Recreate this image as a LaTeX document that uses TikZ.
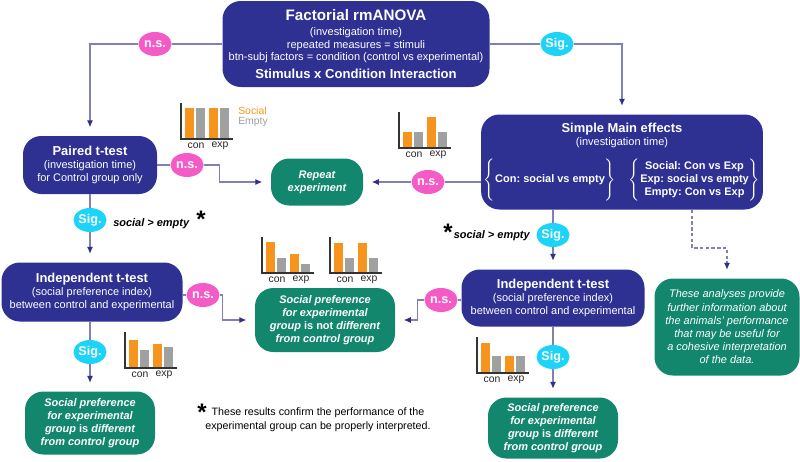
\documentclass[tikz,border=0pt]{standalone}
\usepackage{fontspec}
\setmainfont{Liberation Sans}
\usetikzlibrary{shapes.geometric,arrows.meta}

\definecolor{boxblue}{RGB}{46,49,146}
\definecolor{boxgreen}{RGB}{18,135,110}
\definecolor{nspink}{RGB}{245,91,198}
\definecolor{sigcyan}{RGB}{29,211,247}
\definecolor{linecol}{RGB}{128,128,178}
\definecolor{tipcol}{RGB}{48,48,140}
\definecolor{barorange}{RGB}{247,148,29}
\definecolor{bargray}{RGB}{160,160,160}

\newcommand{\boxtitle}{\fontsize{9.2}{11}\selectfont\bfseries}

% small bar chart: x, baseline y, four bar heights
\newcommand{\minichart}[6]{
  \fill[barorange] (#1+4,#2) rectangle ++(9,-#3);
  \fill[bargray]   (#1+15,#2) rectangle ++(9,-#4);
  \fill[barorange] (#1+28,#2) rectangle ++(9,-#5);
  \fill[bargray]   (#1+39,#2) rectangle ++(9,-#6);
  \draw[black!80,line width=0.8pt] (#1,#2-36) -- (#1,#2) -- (#1+52,#2);
}

\tikzset{
  bluebox/.style={rectangle, rounded corners=13pt, fill=boxblue, text=white,
    align=center, inner sep=2pt, font=\fontsize{7.8}{9.2}\selectfont\frenchspacing},
  greenbox/.style={rectangle, rounded corners=13pt, fill=boxgreen, text=white,
    align=center, inner sep=2pt, font=\fontsize{7.8}{9.4}\selectfont\bfseries\itshape},
  nsdot/.style={ellipse, fill=nspink, text=white, inner sep=0pt,
    minimum width=33*0.025cm, minimum height=24*0.025cm, font=\fontsize{9}{10}\selectfont\bfseries},
  sigdot/.style={nsdot, fill=sigcyan},
  conn/.style={draw=linecol, line width=0.9pt},
  arr/.style={conn, -{Latex[length=5pt,width=4.5pt,color=tipcol]}, shorten >=6pt},
  barlabel/.style={font=\fontsize{7.4}{8}\selectfont, text=black!85, inner sep=0pt},
  note/.style={font=\fontsize{7.8}{9}\selectfont\bfseries\itshape, inner sep=0pt}
}

\begin{document}
\begin{tikzpicture}[x=0.025cm, y=-0.025cm]
\useasboundingbox (0,0) rectangle (800,461);

% boxes
\node[bluebox, minimum width=267*0.025cm, minimum height=86*0.025cm] (anova) at (356,44) {
  {\fontsize{10.8}{12}\selectfont\bfseries Factorial rmANOVA}\\[1pt]
  (investigation time)\\
  repeated measures = stimuli\\
  btn-subj factors = condition (control vs experimental)\\[3pt]
  {\fontsize{9.3}{11}\selectfont\bfseries Stimulus x Condition Interaction}};

\node[bluebox, minimum width=134*0.025cm, minimum height=58*0.025cm] (paired) at (90,165) {
  {\boxtitle Paired t-test}\\ (investigation time)\\ for Control group only};

\node[greenbox, minimum width=92*0.025cm, minimum height=47*0.025cm] (repeat) at (317,182) {
  Repeat\\ experiment};

\node[bluebox, minimum width=280*0.025cm, minimum height=95*0.025cm] (simple) at (622,162) {
  {\boxtitle Simple Main effects}\\ (investigation time)\\[7pt]
  \bfseries $\left\{\begin{tabular}{@{}c@{}}\\ Con: social vs empty\\ \\ \end{tabular}\right\}$\hspace{9pt}%
  $\left\{\begin{tabular}{@{}c@{}}Social: Con vs Exp\\ Exp: social vs empty\\ Empty: Con vs Exp\end{tabular}\right\}$};

\node[bluebox, minimum width=181*0.025cm, minimum height=59*0.025cm] (indleft) at (92,292) {
  {\boxtitle Independent t-test}\\ (social preference index)\\ between control and experimental};

\node[bluebox, minimum width=183*0.025cm, minimum height=57*0.025cm] (indright) at (553,298) {
  {\boxtitle Independent t-test}\\ (social preference index)\\ between control and experimental};

\node[greenbox, minimum width=140*0.025cm, minimum height=64*0.025cm] (samegrp) at (325,320) {
  Social preference\\ for experimental\\ group {\upshape is not} different\\ from control group};

\node[greenbox, minimum width=130*0.025cm, minimum height=63*0.025cm] (diffleft) at (90,423) {
  Social preference\\ for experimental\\ group {\upshape is} different\\ from control group};

\node[greenbox, minimum width=130*0.025cm, minimum height=61*0.025cm] (diffright) at (553,428) {
  Social preference\\ for experimental\\ group {\upshape is} different\\ from control group};

\node[greenbox, font=\fontsize{7.8}{9.4}\selectfont\itshape, minimum width=145*0.025cm, minimum height=97*0.025cm] (info) at (727,327) {
  These analyses provide\\ further information about\\ the animals' performance\\
  that may be useful for\\ a cohesive interpretation\\ of the data.};

% n.s. and Sig. labels
\node[nsdot] (ns1) at (155,44) {n.s.};
\node[sigdot] (sig1) at (557,44) {Sig.};
\node[nsdot] (ns2) at (187,165) {n.s.};
\node[nsdot] (ns3) at (428,182) {n.s.};
\node[sigdot] (sig2) at (90,220) {Sig.};
\node[nsdot] (ns4) at (203,295) {n.s.};
\node[sigdot] (sig3) at (553,235) {Sig.};
\node[nsdot] (ns5) at (441,300) {n.s.};
\node[sigdot] (sig4) at (90,352) {Sig.};
\node[sigdot] (sig5) at (553,357) {Sig.};

% connectors
\draw[conn] (anova.west) -- (ns1);
\draw[arr] (ns1) -| (paired);
\draw[conn] (anova.east) -- (sig1);
\draw[arr] (sig1) -| (simple);

\draw[conn] (paired.east) -- (ns2);
\draw[arr] (ns2.east) -- ++(16,0) |- (repeat.west);
\draw[conn] (simple.west |- ns3) -- (ns3);
\draw[arr] (ns3) -- (repeat.east);

\draw[conn] (paired.south) -- (sig2);
\draw[arr] (sig2) -- (indleft.north -| sig2);
\draw[conn] (indleft.east |- ns4) -- (ns4);
\draw[arr] (ns4.east) -- ++(3,0) |- (samegrp.west);
\draw[conn] (indleft.south -| sig4) -- (sig4);
\draw[arr] (sig4) -- (diffleft.north -| sig4);

\draw[conn] (simple.south -| sig3) -- (sig3);
\draw[arr] (sig3) -- (indright.north -| sig3);
\draw[conn] (indright.west |- ns5) -- (ns5);
\draw[arr] (ns5.west) -- ++(-7,0) |- (samegrp.east);
\draw[conn] (indright.south) -- (sig5);
\draw[arr] (sig5) -- (diffright.north);

\coordinate (dsplit) at (692,248);
\draw[arr, dash pattern=on 2.5pt off 1.6pt] (simple.south -| dsplit) -- (dsplit) -| (info.north);

% notes
\node[note, anchor=west] (noteleft) at (113,224) {social > empty};
\node[font=\fontsize{17}{17}\selectfont\bfseries, inner sep=0pt] (starleft) at (201,219) {*};
\node[note, anchor=east] (noteright) at (530,236) {social > empty};
\node[font=\fontsize{17}{17}\selectfont\bfseries, inner sep=0pt] (starright) at (448,232) {*};
\node[font=\fontsize{17}{17}\selectfont\bfseries, inner sep=0pt] (starfoot) at (202,412) {*};
\node[align=center, font=\fontsize{7.6}{9.9}\selectfont, inner sep=0pt] (foot) at (318,420) {
  These results confirm the performance of the\\ experimental group can be properly interpreted.};

% bar charts
\minichart{181}{139}{31}{31}{31}{31}
\node[barlabel] (pcon) at (196,146) {con};
\node[barlabel] (pexp) at (220,146) {exp};
\node[barlabel, text=barorange, anchor=west] (legsoc) at (238,111) {Social};
\node[barlabel, text=bargray, anchor=west] (legemp) at (238,122) {Empty};

\minichart{399}{148}{16}{16}{31}{16}
\node[barlabel] (scon) at (414,155) {con};
\node[barlabel] (sexp) at (438,155) {exp};

\minichart{262}{273}{31}{15}{19}{9}
\node[barlabel] (acon) at (277,280) {con};
\node[barlabel] (aexp) at (301,280) {exp};

\minichart{330}{273}{30}{15}{30}{15}
\node[barlabel] (bcon) at (345,280) {con};
\node[barlabel] (bexp) at (369,280) {exp};

\minichart{125}{368}{28}{18}{24}{21}
\node[barlabel] (ccon) at (140,375) {con};
\node[barlabel] (cexp) at (164,375) {exp};

\minichart{477}{373}{30}{17}{17}{17}
\node[barlabel] (dcon) at (492,380) {con};
\node[barlabel] (dexp) at (516,380) {exp};

\end{tikzpicture}
\end{document}
